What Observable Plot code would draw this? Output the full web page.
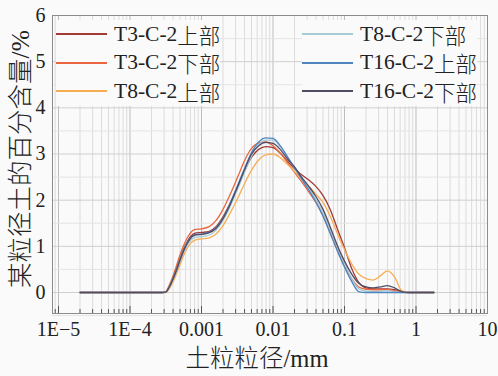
<!DOCTYPE html>
<html>
<head>
<meta charset="utf-8">
<script src="https://cdn.jsdelivr.net/npm/d3@7"></script>
<script src="https://cdn.jsdelivr.net/npm/@observablehq/plot@0.6"></script>
<style>
  html, body { margin: 0; padding: 0; background: #fafafa; }
  #chart { position: relative; width: 498px; height: 376px; }
  #chart svg { display: block; }
  .legend { position: absolute; top: 20px; background: #fafafa; font-size: 21.5px; color: #222; }
  .legend .row { display: flex; align-items: center; height: 28.5px; white-space: nowrap; }
  .legend .sw { display: inline-block; width: 51px; height: 2px; margin-right: 7px; }
  .lat { font-family: "Liberation Serif", serif; }
  .cjk { font-family: "Noto Sans CJK SC", sans-serif; font-weight: 300; }
</style>
</head>
<body>
<div id="chart"></div>
<script>
// Particle size (mm) at which each content value was read
const sizes = [2.0e-5, 2.82e-4, 3.16e-4, 3.55e-4, 3.98e-4, 4.47e-4, 5.01e-4, 5.62e-4, 6.31e-4, 7.08e-4,
  7.94e-4, 1e-3, 1.26e-3, 1.58e-3, 2.0e-3, 2.51e-3, 3.16e-3, 3.98e-3, 5.01e-3, 6.31e-3,
  7.94e-3, 0.01, 0.0126, 0.0158, 0.02, 0.0251, 0.0316, 0.0398, 0.0501, 0.0631,
  0.0794, 0.1, 0.126, 0.158, 0.2, 0.251, 0.316, 0.398, 0.501, 0.631, 0.794, 1.78];

// Content (%) of each sample at those sizes
const t3Upper = [0, 0, 0.01, 0.13, 0.3, 0.52, 0.74, 0.94, 1.1, 1.22,
  1.28, 1.3, 1.32, 1.42, 1.64, 1.93, 2.28, 2.63, 2.93, 3.1,
  3.16, 3.14, 3.02, 2.85, 2.68, 2.55, 2.44, 2.3, 2.1, 1.8,
  1.38, 0.97, 0.52, 0.22, 0.1, 0.08, 0.08, 0.08, 0.06, 0.02, 0, 0];
const t3Lower = [0, 0, 0.02, 0.16, 0.35, 0.58, 0.82, 1.02, 1.18, 1.3,
  1.36, 1.38, 1.42, 1.55, 1.8, 2.12, 2.48, 2.85, 3.12, 3.24,
  3.26, 3.18, 3.02, 2.82, 2.6, 2.4, 2.18, 1.95, 1.66, 1.3,
  0.92, 0.58, 0.3, 0.12, 0.07, 0.06, 0.06, 0.06, 0.04, 0.01, 0, 0];
const t8Upper = [0, 0, 0, 0.08, 0.22, 0.4, 0.6, 0.8, 0.96, 1.07,
  1.13, 1.16, 1.18, 1.26, 1.45, 1.72, 2.02, 2.35, 2.65, 2.87,
  2.98, 3.0, 2.92, 2.78, 2.62, 2.46, 2.3, 2.13, 1.95, 1.65,
  1.28, 0.93, 0.62, 0.4, 0.3, 0.27, 0.36, 0.47, 0.34, 0.04, 0, 0];
const t8Lower = [0, 0, 0.01, 0.11, 0.27, 0.46, 0.68, 0.87, 1.02, 1.13,
  1.19, 1.21, 1.24, 1.34, 1.56, 1.86, 2.22, 2.6, 2.96, 3.2,
  3.3, 3.3, 3.16, 2.94, 2.7, 2.48, 2.26, 2.02, 1.72, 1.36,
  0.98, 0.62, 0.3, 0.08, 0.03, 0.02, 0.03, 0.04, 0.02, 0, 0, 0];
const t16Upper = [0, 0, 0.01, 0.13, 0.3, 0.5, 0.72, 0.92, 1.08, 1.19,
  1.25, 1.27, 1.3, 1.4, 1.62, 1.93, 2.3, 2.68, 3.03, 3.26,
  3.35, 3.34, 3.18, 2.95, 2.7, 2.46, 2.22, 1.96, 1.65, 1.28,
  0.9, 0.55, 0.24, 0.02, 0, 0, 0, 0, 0, 0, 0, 0];
const t16Lower = [0, 0, 0.01, 0.12, 0.28, 0.48, 0.7, 0.9, 1.06, 1.18,
  1.24, 1.26, 1.29, 1.38, 1.6, 1.9, 2.27, 2.65, 3.0, 3.18,
  3.25, 3.23, 3.1, 2.9, 2.72, 2.5, 2.3, 2.08, 1.8, 1.42,
  1.02, 0.68, 0.4, 0.2, 0.12, 0.1, 0.12, 0.15, 0.1, 0.02, 0, 0];

// Sample names, split into their Latin code and the Chinese position word
const seriesCodes = ["T3-C-2", "T3-C-2", "T8-C-2", "T8-C-2", "T16-C-2", "T16-C-2"];
const seriesParts = ["上部", "下部", "上部", "下部", "上部", "下部"];
const seriesNames = seriesCodes.map((c, i) => c + seriesParts[i]);
const seriesValues = [t3Upper, t3Lower, t8Upper, t8Lower, t16Upper, t16Lower];
const seriesColors = ["#a33a35", "#e9663f", "#f7ae52", "#a6cad6", "#4f86c0", "#4f4c64"];

const xTickValues = [1e-5, 1e-4, 1e-3, 1e-2, 1e-1, 1, 10];
const xTickLabels = ["1E\u22125", "1E\u22124", "0.001", "0.01", "0.1", "1", "10"];
const yTickValues = [0, 1, 2, 3, 4, 5, 6];
const yHalfValues = [-0.5, 0.5, 1.5, 2.5, 3.5, 4.5, 5.5];

// Axis titles: [text, isCJK] pieces
const xTitle = [["土粒粒径", true], ["/mm", false]];
const yTitle = [["某粒径土的百分含量", true], ["/%", false]];

const xDomain = [Math.pow(10, -5.084), 10];
const yDomain = [-0.455, 6];

// Minor log gridlines: 2..9 within each decade
const xMinor = [];
for (let e = -6; e <= 0; e++) for (let m = 2; m <= 9; m++) {
  const v = m * Math.pow(10, e);
  if (v > xDomain[0] && v < xDomain[1]) xMinor.push(v);
}

const rows = seriesNames.flatMap((name, k) =>
  sizes.map((d, i) => ({series: name, d, v: seriesValues[k][i]})));

const W = 498, H = 376, mT = 15, mB = 63, mL = 52, mR = 11;
const innerH = H - mT - mB;

const chart = Plot.plot({
  width: W, height: H,
  marginTop: mT, marginBottom: mB, marginLeft: mL, marginRight: mR,
  style: {background: "transparent", fontFamily: "'Liberation Serif', serif", color: "#222"},
  x: {type: "log", domain: xDomain},
  y: {domain: yDomain},
  color: {domain: seriesNames, range: seriesColors},
  marks: [
    Plot.gridX(xMinor, {stroke: "#dcdcdc", strokeOpacity: 1}),
    Plot.gridX(xTickValues, {stroke: "#bdbdbd", strokeOpacity: 1}),
    Plot.gridY(yHalfValues, {stroke: "#e4e4e4", strokeOpacity: 1}),
    Plot.gridY(yTickValues, {stroke: "#cfcfcf", strokeOpacity: 1}),
    Plot.line(rows, {x: "d", y: "v", z: "series", stroke: "series", strokeWidth: 1.3, curve: "monotone-x"}),
    Plot.tickX(xMinor, {insetTop: innerH - 4, stroke: "#555"}),
    Plot.tickX(xTickValues, {insetTop: innerH - 7, stroke: "#555"}),
    Plot.frame({stroke: "#8c8c8c"}),
    Plot.axisX(xTickValues, {
      tickSize: 0, tickPadding: 8, fontSize: 20, label: null,
      tickFormat: d => xTickLabels[xTickValues.indexOf(d)]
    }),
    Plot.axisY(yTickValues, {tickSize: 0, tickPadding: 7, fontSize: 20, label: null})
  ]
});

const root = document.getElementById("chart");
root.appendChild(chart);

// Axis titles with separate fonts for the Chinese and Latin pieces
function addTitle(pieces, transform, size) {
  const t = d3.select(chart).append("text")
    .attr("transform", transform)
    .attr("text-anchor", "middle")
    .attr("fill", "#222")
    .attr("font-size", size);
  pieces.forEach(([s, cjk]) => {
    t.append("tspan")
      .attr("font-family", cjk ? "'Noto Sans CJK SC'" : "'Liberation Serif'")
      .attr("font-weight", cjk ? 300 : 400)
      .text(s);
  });
}
addTitle(xTitle, "translate(257,367)", 24.5);
addTitle(yTitle, "translate(29,159) rotate(-90)", 25.5);

// Two-column legend over the plot area
const columns = [[0, 1, 2], [3, 4, 5]];
const lefts = [56, 302];
columns.forEach((idx, c) => {
  const box = document.createElement("div");
  box.className = "legend";
  box.style.left = lefts[c] + "px";
  idx.forEach(k => {
    const row = document.createElement("div");
    row.className = "row";
    const sw = document.createElement("span");
    sw.className = "sw";
    sw.style.background = seriesColors[k];
    const a = document.createElement("span");
    a.className = "lat";
    a.textContent = seriesCodes[k];
    const b = document.createElement("span");
    b.className = "cjk";
    b.textContent = seriesParts[k];
    row.append(sw, a, b);
    box.appendChild(row);
  });
  root.appendChild(box);
});
</script>
</body>
</html>
